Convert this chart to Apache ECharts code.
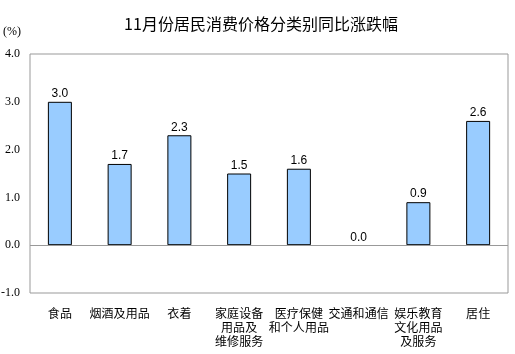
<!DOCTYPE html>
<html>
<head>
<meta charset="utf-8">
<script src="https://cdn.jsdelivr.net/npm/echarts@6/dist/echarts.min.js"></script>
<style>
  html, body { margin: 0; padding: 0; background: #fff; }
  #view { width: 515px; height: 354px; }
</style>
</head>
<body>
<div id="view"></div>
<script>
var categories = ["食品", "烟酒及用品", "衣着", "家庭设备\n用品及\n维修服务", "医疗保健\n和个人用品", "交通和通信", "娱乐教育\n文化用品\n及服务", "居住"];
var values = [3.0, 1.7, 2.3, 1.5, 1.6, 0.0, 0.9, 2.6];

// zero-height bar: no visible outline in the original
var barData = values.map(function (v) {
  return v === 0 ? { value: v, itemStyle: { borderWidth: 0 } } : v;
});

var option = {
  backgroundColor: "#fff",
  animation: false,
  title: {
    text: "11月份居民消费价格分类别同比涨跌幅",
    left: 256,
    textAlign: "center",
    top: 11,
    textStyle: {
      fontFamily: "Noto Sans CJK SC",
      fontSize: 16,
      fontWeight: "normal",
      color: "#000"
    }
  },
  graphic: [{
    type: "text",
    left: 3,
    top: 26,
    style: { text: "(%)", fontFamily: "Liberation Serif", fontSize: 12, fill: "#000" }
  }],
  grid: {
    left: 30,
    right: 7,
    top: 54,
    bottom: 61,
    outerBoundsMode: "none",
    containLabel: false,
    show: true,
    borderColor: "#999",
    borderWidth: 1
  },
  xAxis: {
    type: "category",
    data: categories,
    axisLine: { show: false, onZero: false },
    axisTick: { show: false },
    axisLabel: {
      interval: 0,
      margin: 13,
      hideOverlap: false,
      fontFamily: "Noto Sans CJK SC",
      fontSize: 12,
      lineHeight: 14,
      color: "#000",
      verticalAlign: "top"
    }
  },
  yAxis: {
    type: "value",
    min: -1,
    max: 4,
    interval: 1,
    splitLine: { show: false },
    axisLine: { show: false },
    axisTick: { show: false },
    axisLabel: {
      margin: 10,
      formatter: function (v) { return v.toFixed(1); },
      fontFamily: "Liberation Serif",
      fontSize: 12,
      color: "#000"
    }
  },
  series: [{
    type: "bar",
    data: barData,
    barWidth: 24,
    itemStyle: { color: "#99CCFF", borderColor: "#000", borderWidth: 1 },
    label: {
      show: true,
      position: "top",
      distance: 2,
      formatter: function (p) { return p.value.toFixed(1); },
      fontFamily: "Liberation Sans",
      fontSize: 12,
      color: "#000"
    },
    markLine: {
      silent: true,
      symbol: "none",
      label: { show: false },
      lineStyle: { color: "#999", type: "solid", width: 1 },
      data: [{ yAxis: 0 }]
    }
  }]
};

echarts.init(document.getElementById("view")).setOption(option);
</script>
</body>
</html>
